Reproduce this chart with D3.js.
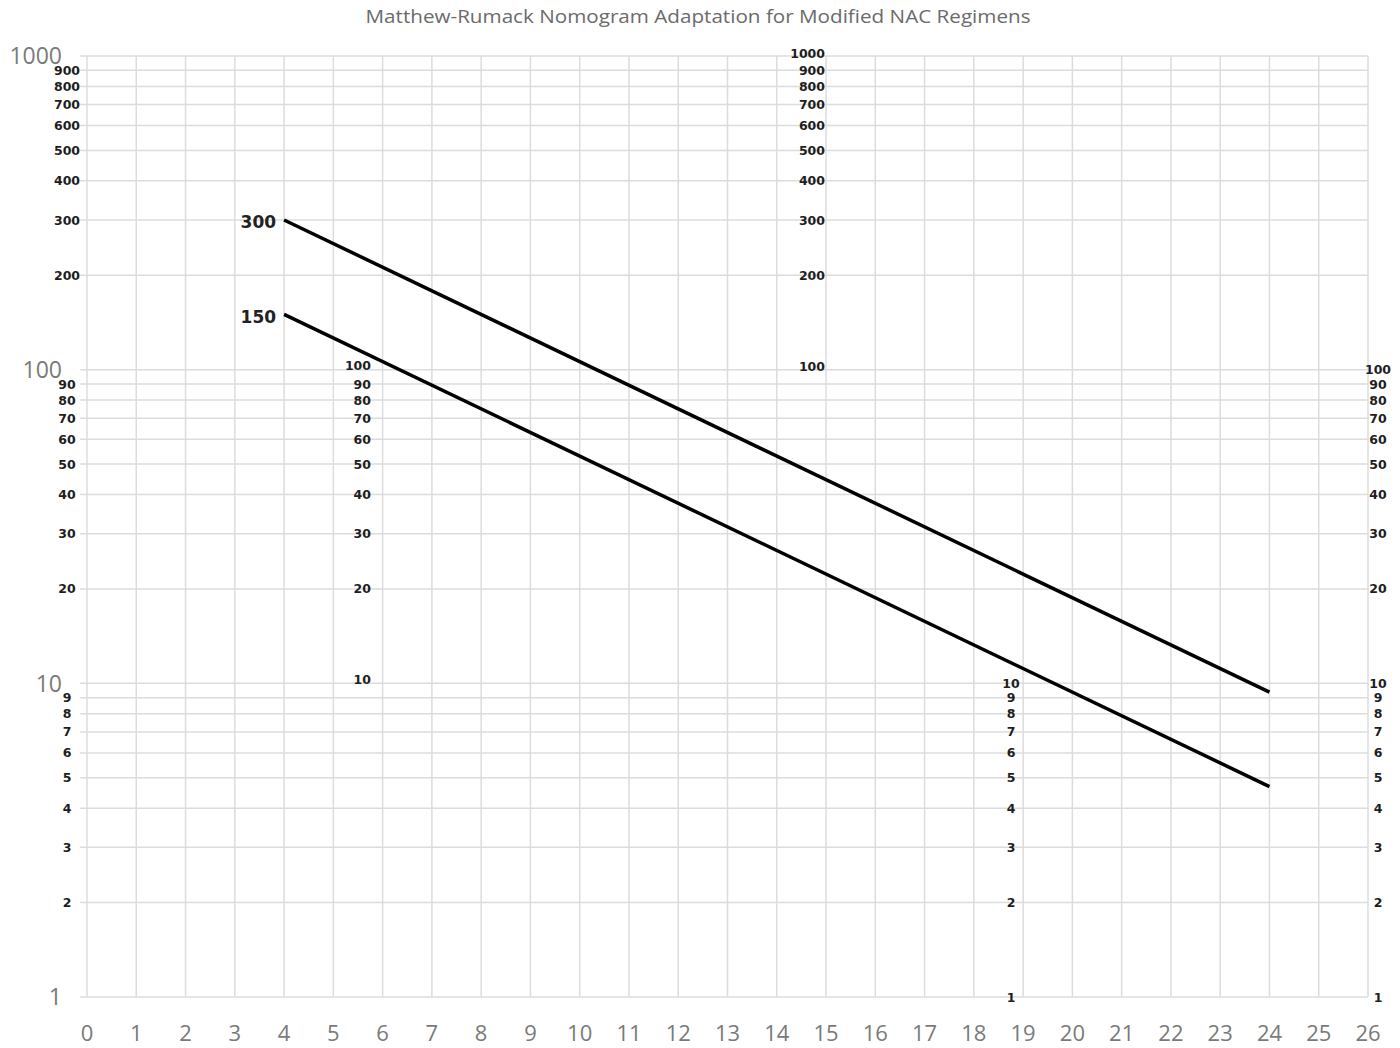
<!DOCTYPE html>
<html><head><meta charset="utf-8">
<script src="https://cdn.jsdelivr.net/npm/d3@7"></script>
<style>body{margin:0;background:#fff}</style>
</head><body>
<svg id="c" width="1400" height="1048"></svg>
<script>
const title = "Matthew-Rumack Nomogram Adaptation for Modified NAC Regimens";
const hourTicks = [0,1,2,3,4,5,6,7,8,9,10,11,12,13,14,15,16,17,18,19,20,21,22,23,24,25,26];
const gridValues = [1,2,3,4,5,6,7,8,9,10,20,30,40,50,60,70,80,90,100,200,300,400,500,600,700,800,900,1000];
const majorLabels = [1,10,100,1000];
const leftMinorLabels = [2,3,4,5,6,7,8,9,20,30,40,50,60,70,80,90,200,300,400,500,600,700,800,900];
const col1Labels = [10,20,30,40,50,60,70,80,90,100];
const col2Labels = [100,200,300,400,500,600,700,800,900,1000];
const col3Labels = [1,2,3,4,5,6,7,8,9,10];
const rightLabels = [1,2,3,4,5,6,7,8,9,10,20,30,40,50,60,70,80,90,100];
const lineHours = [4, 24];
const line300 = [300, 9.375];
const line150 = [150, 4.6875];
const lineNames = ["300","150"];

const svg = d3.select("#c");
const x = d3.scaleLinear().domain([0,26]).range([87,1368]);
const y = d3.scaleLog().domain([1,1000]).range([997,56]);

svg.append("text").attr("x",698).attr("y",23).attr("text-anchor","middle")
  .attr("font-family","Open Sans").attr("font-size",18).attr("fill","#6b6b6b")
  .attr("textLength",665).attr("lengthAdjust","spacingAndGlyphs").text(title);

const grid = svg.append("g").attr("stroke","#dcdcdc").attr("stroke-width",1.5);
grid.selectAll("line.h").data(gridValues).join("line").attr("class","h")
  .attr("x1",80).attr("x2",x(26)).attr("y1",d=>y(d)).attr("y2",d=>y(d));
grid.selectAll("line.v").data(hourTicks).join("line").attr("class","v")
  .attr("x1",d=>x(d)).attr("x2",d=>x(d)).attr("y1",y(1000)).attr("y2",y(1));

svg.append("g").selectAll("text").data(hourTicks).join("text")
  .attr("x",d=>x(d)).attr("y",1041).attr("text-anchor","middle")
  .attr("font-family","Open Sans").attr("font-size",22).attr("fill","#7a7a7a").text(d=>d);

svg.append("g").selectAll("text").data(majorLabels).join("text")
  .attr("x",62).attr("y",d=>y(d)).attr("dy","0.36em").attr("text-anchor","end")
  .attr("font-family","Open Sans").attr("font-size",23).attr("fill","#7a7a7a").text(d=>d);

function column(data, xpos, anchor, size, topShift){
  const top = d3.max(data), bottom = d3.min(data);
  svg.append("g").selectAll("text").data(data).join("text")
    .attr("x",xpos).attr("y",d=>y(d) + ((d===top||d===bottom)&&topShift ? topShift : 0))
    .attr("dy","0.36em").attr("text-anchor",anchor)
    .attr("font-family","DejaVu Sans").attr("font-weight","bold").attr("font-size",size)
    .attr("fill","#1e1e1e").text(d=>d);
}
column(leftMinorLabels, 67, "middle", 12.5, 0);
column(col1Labels, 371, "end", 12.5, -4);
column(col2Labels, 825, "end", 12.5, -3);
column(col3Labels, 1011, "middle", 12.5, 0);
column(rightLabels, 1378, "middle", 12.5, 0);

const lineGen = d3.line().x(d=>x(d[0])).y(d=>y(d[1]));
[line300, line150].forEach((vals,i)=>{
  const pts = lineHours.map((h,j)=>[h, vals[j]]);
  svg.append("path").attr("d",lineGen(pts)).attr("fill","none")
    .attr("stroke","#000").attr("stroke-width",3.5);
  svg.append("text").attr("x",x(lineHours[0])-8).attr("y",y(vals[0])+2).attr("dy","0.36em")
    .attr("text-anchor","end").attr("font-family","DejaVu Sans").attr("font-weight","bold")
    .attr("font-size",17).attr("fill","#222").text(lineNames[i]);
});
</script>
</body></html>
